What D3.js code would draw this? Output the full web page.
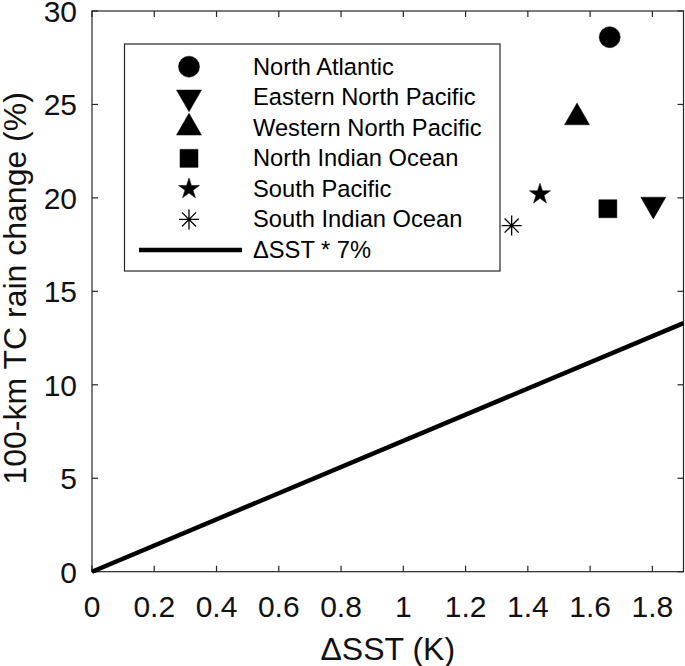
<!DOCTYPE html>
<html>
<head>
<meta charset="utf-8">
<script src="https://cdn.jsdelivr.net/npm/d3@7"></script>
<style>
  body { margin: 0; background: #fff; }
  text { font-family: "Liberation Sans", Arial, Helvetica, sans-serif; }
</style>
</head>
<body>
<div id="chart"></div>
<script>
// basin values
var regions = ["North Atlantic", "Eastern North Pacific", "Western North Pacific",
               "North Indian Ocean", "South Pacific", "South Indian Ocean"];
var markers = ["circle", "triangleDown", "triangleUp", "square", "star", "asterisk"];
var dSST = [1.663, 1.803, 1.558, 1.657, 1.439, 1.348];
var rainChange = [28.6, 19.65, 24.3, 19.42, 20.2, 18.52];

// reference scaling line: 7% per K
var ccRate = 7;
var lineX = [0, 1.9];
var lineLabel = "\u0394SST * 7%";

var xTicks = [0, 0.2, 0.4, 0.6, 0.8, 1, 1.2, 1.4, 1.6, 1.8];
var yTicks = [0, 5, 10, 15, 20, 25, 30];

var W = 685, H = 666;
// plot box edges (note: "top" is taken by window.top, so prefix them)
var pLeft = 92, pRight = 683.5, pTop = 11, pBottom = 571.7;
var axisColor = "#262626";

var svg = d3.select("#chart").append("svg")
    .attr("width", W)
    .attr("height", H);

var x = d3.scaleLinear().domain([0, 1.9]).range([pLeft, pRight]);
var y = d3.scaleLinear().domain([0, 30]).range([pBottom, pTop]);

// marker shapes, drawn around (0,0)
function markerPath(type) {
    var p = d3.path();
    if (type == "circle") {
        p.arc(0, 0, 10.5, 0, 2 * Math.PI);
    } else if (type == "square") {
        p.rect(-9, -9, 18, 18);
    } else if (type == "triangleUp" || type == "triangleDown") {
        var s = 25, f = type == "triangleUp" ? 1 : -1;
        p.moveTo(0, -f * s / Math.sqrt(3));
        p.lineTo(s / 2, f * s / (2 * Math.sqrt(3)));
        p.lineTo(-s / 2, f * s / (2 * Math.sqrt(3)));
        p.closePath();
    } else if (type == "star") {
        var R = 11, r = R * 0.382;
        for (var i = 0; i < 10; i++) {
            var a = -Math.PI / 2 + i * Math.PI / 5;
            var rr = i % 2 == 0 ? R : r;
            if (i == 0) p.moveTo(rr * Math.cos(a), rr * Math.sin(a));
            else p.lineTo(rr * Math.cos(a), rr * Math.sin(a));
        }
        p.closePath();
    } else if (type == "asterisk") {
        var k = 10, d = 7.07;
        p.moveTo(-k, 0); p.lineTo(k, 0);
        p.moveTo(0, -k); p.lineTo(0, k);
        p.moveTo(-d, -d); p.lineTo(d, d);
        p.moveTo(-d, d); p.lineTo(d, -d);
    }
    return p.toString();
}

function drawMarker(g, type) {
    g.append("path")
        .attr("d", markerPath(type))
        .attr("fill", type == "asterisk" ? "none" : "#000")
        .attr("stroke", "#000")
        .attr("stroke-width", type == "asterisk" ? 1.3 : 0.5);
}

// axes box with inward ticks on all four sides
var tickLen = 6;
var frame = svg.append("g")
    .attr("stroke", axisColor)
    .attr("stroke-width", 1.2)
    .attr("fill", "none");

frame.append("rect")
    .attr("x", pLeft).attr("y", pTop)
    .attr("width", pRight - pLeft).attr("height", pBottom - pTop);

xTicks.forEach(function (t) {
    frame.append("line").attr("x1", x(t)).attr("x2", x(t))
        .attr("y1", pBottom).attr("y2", pBottom - tickLen);
    frame.append("line").attr("x1", x(t)).attr("x2", x(t))
        .attr("y1", pTop).attr("y2", pTop + tickLen);
});
yTicks.forEach(function (t) {
    frame.append("line").attr("y1", y(t)).attr("y2", y(t))
        .attr("x1", pLeft).attr("x2", pLeft + tickLen);
    frame.append("line").attr("y1", y(t)).attr("y2", y(t))
        .attr("x1", pRight).attr("x2", pRight - tickLen);
});

// tick labels
svg.append("g").selectAll("text")
    .data(xTicks)
    .enter().append("text")
    .attr("x", function (d) { return x(d); })
    .attr("y", 617)
    .attr("text-anchor", "middle")
    .attr("font-size", 30)
    .attr("fill", "#111")
    .text(function (d) { return d; });

svg.append("g").selectAll("text")
    .data(yTicks)
    .enter().append("text")
    .attr("x", 77)
    .attr("y", function (d) { return y(d) + 11; })
    .attr("text-anchor", "end")
    .attr("font-size", 30)
    .attr("fill", "#111")
    .text(function (d) { return d; });

// axis titles
svg.append("text")
    .attr("x", (pLeft + pRight) / 2)
    .attr("y", 660)
    .attr("text-anchor", "middle")
    .attr("font-size", 32)
    .attr("fill", "#111")
    .text("\u0394SST (K)");

svg.append("text")
    .attr("transform", "translate(26," + ((pTop + pBottom) / 2 - 3) + ") rotate(-90)")
    .attr("text-anchor", "middle")
    .attr("font-size", 32)
    .attr("fill", "#111")
    .text("100-km TC rain change (%)");

// 7% line
var line = d3.line()
    .x(function (d) { return x(d); })
    .y(function (d) { return y(d * ccRate); });

svg.append("path")
    .datum(lineX)
    .attr("d", line)
    .attr("fill", "none")
    .attr("stroke", "#000")
    .attr("stroke-width", 4.5);

// data points
regions.forEach(function (name, i) {
    var g = svg.append("g")
        .attr("transform", "translate(" + x(dSST[i]) + "," + y(rainChange[i]) + ")");
    drawMarker(g, markers[i]);
});

// legend
var legX = 124.5, legY = 44, legW = 375.5, legH = 227;
var rowY0 = 66.7, rowStep = 30.55;
var leg = svg.append("g");
leg.append("rect")
    .attr("x", legX).attr("y", legY)
    .attr("width", legW).attr("height", legH)
    .attr("fill", "#fff")
    .attr("stroke", axisColor)
    .attr("stroke-width", 1.2);

regions.forEach(function (name, i) {
    var ry = rowY0 + i * rowStep;
    var g = leg.append("g").attr("transform", "translate(189," + ry + ")");
    drawMarker(g, markers[i]);
    leg.append("text")
        .attr("x", 253)
        .attr("y", ry + 8)
        .attr("font-size", 23.7)
        .attr("fill", "#000")
        .text(name);
});

var lineRow = rowY0 + regions.length * rowStep;
leg.append("line")
    .attr("x1", 139).attr("x2", 242)
    .attr("y1", lineRow).attr("y2", lineRow)
    .attr("stroke", "#000")
    .attr("stroke-width", 4.5);
leg.append("text")
    .attr("x", 253)
    .attr("y", lineRow + 8)
    .attr("font-size", 23.7)
    .attr("fill", "#000")
    .text(lineLabel);
</script>
</body>
</html>
